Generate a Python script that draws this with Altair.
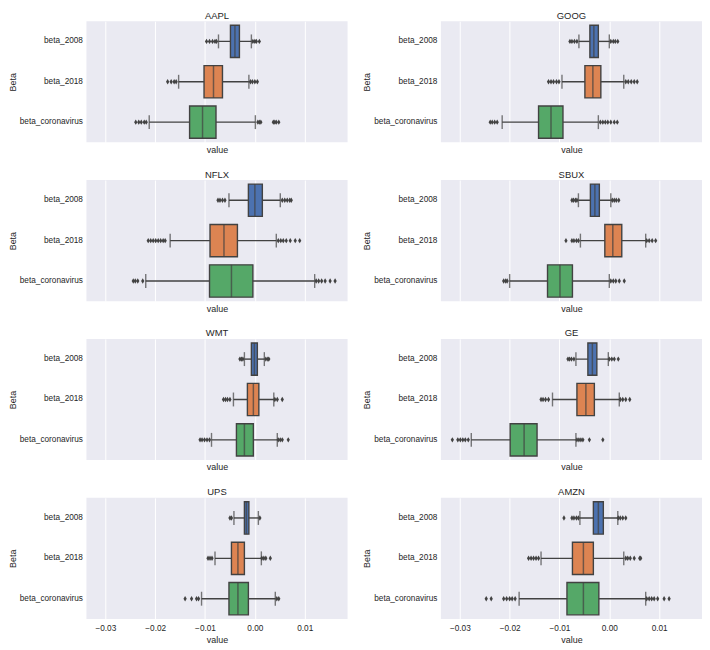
import altair as alt
import pandas as pd

tickers = ["AAPL", "GOOG", "NFLX", "SBUX", "WMT", "GE", "UPS", "AMZN"]
series = ["beta_2008", "beta_2018", "beta_coronavirus"]
colors = ["#4C72B0", "#DD8452", "#55A868"]
tick_values = [-0.03, -0.02, -0.01, 0.0, 0.01]

whisker_low = {
    "AAPL": [-0.0073, -0.0153, -0.0212],
    "GOOG": [-0.0061, -0.0095, -0.0215],
    "NFLX": [-0.0052, -0.0170, -0.0219],
    "SBUX": [-0.0062, -0.0058, -0.0200],
    "WMT": [-0.0021, -0.0043, -0.0087],
    "GE": [-0.0067, -0.0114, -0.0277],
    "UPS": [-0.0042, -0.0080, -0.0107],
    "AMZN": [-0.0059, -0.0137, -0.0181],
}
quartile_1 = {
    "AAPL": [-0.0049, -0.0102, -0.0131],
    "GOOG": [-0.0039, -0.0049, -0.0142],
    "NFLX": [-0.0013, -0.0090, -0.0091],
    "SBUX": [-0.0038, -0.0009, -0.0124],
    "WMT": [-0.0007, -0.0015, -0.0037],
    "GE": [-0.0043, -0.0065, -0.0199],
    "UPS": [-0.0021, -0.0047, -0.0052],
    "AMZN": [-0.0032, -0.0074, -0.0085],
}
medians = {
    "AAPL": [-0.0040, -0.0083, -0.0105],
    "GOOG": [-0.0031, -0.0033, -0.0117],
    "NFLX": [0.0000, -0.0062, -0.0047],
    "SBUX": [-0.0029, 0.0007, -0.0099],
    "WMT": [-0.0001, -0.0003, -0.0021],
    "GE": [-0.0034, -0.0047, -0.0171],
    "UPS": [-0.0017, -0.0034, -0.0034],
    "AMZN": [-0.0022, -0.0052, -0.0052],
}
quartile_3 = {
    "AAPL": [-0.0031, -0.0065, -0.0078],
    "GOOG": [-0.0022, -0.0017, -0.0093],
    "NFLX": [0.0015, -0.0035, -0.0004],
    "SBUX": [-0.0020, 0.0025, -0.0074],
    "WMT": [0.0005, 0.0008, -0.0003],
    "GE": [-0.0025, -0.0030, -0.0145],
    "UPS": [-0.0012, -0.0021, -0.0013],
    "AMZN": [-0.0012, -0.0032, -0.0021],
}
whisker_high = {
    "AAPL": [-0.0007, -0.0012, 0.0001],
    "GOOG": [0.0000, 0.0029, -0.0022],
    "NFLX": [0.0051, 0.0043, 0.0120],
    "SBUX": [0.0003, 0.0073, 0.0000],
    "WMT": [0.0019, 0.0038, 0.0045],
    "GE": [-0.0002, 0.0020, -0.0067],
    "UPS": [0.0007, 0.0013, 0.0041],
    "AMZN": [0.0017, 0.0029, 0.0073],
}
outliers = {
    "AAPL": [
        [-0.0097, -0.0091, -0.0085, -0.0080, -0.0077, -0.0004, 0.0000, 0.0003, 0.0009],
        [-0.0175, -0.0168, -0.0162, -0.0158, -0.0009, -0.0005, 0.0000, 0.0005],
        [-0.0239, -0.0233, -0.0228, -0.0222, -0.0218, 0.0006, 0.0009, 0.0012, 0.0037, 0.0040, 0.0043, 0.0048],
    ],
    "GOOG": [
        [-0.0079, -0.0075, -0.0070, -0.0065, 0.0003, 0.0008, 0.0012, 0.0017],
        [-0.0122, -0.0117, -0.0112, -0.0106, -0.0101, 0.0033, 0.0038, 0.0044, 0.0050, 0.0056],
        [-0.0239, -0.0235, -0.0230, -0.0225, -0.0018, -0.0013, -0.0008, -0.0003, 0.0003, 0.0010, 0.0016],
    ],
    "NFLX": [
        [-0.0074, -0.0070, -0.0065, -0.0060, 0.0055, 0.0060, 0.0065, 0.0070, 0.0073],
        [-0.0214, -0.0209, -0.0204, -0.0199, -0.0194, -0.0189, -0.0184, -0.0180,
         0.0047, 0.0052, 0.0057, 0.0063, 0.0071, 0.0081, 0.0090],
        [-0.0244, -0.0240, -0.0235, -0.0225, 0.0123, 0.0128, 0.0134, 0.0141, 0.0151, 0.0161],
    ],
    "SBUX": [
        [-0.0075, -0.0072, -0.0068, -0.0065, 0.0006, 0.0010, 0.0014, 0.0019],
        [-0.0087, -0.0075, -0.0071, -0.0066, -0.0062, 0.0075, 0.0080, 0.0086, 0.0093],
        [-0.0212, -0.0208, -0.0205, 0.0003, 0.0008, 0.0013, 0.0020, 0.0030],
    ],
    "WMT": [
        [-0.0030, -0.0027, -0.0024, 0.0022, 0.0026, 0.0028],
        [-0.0063, -0.0059, -0.0055, -0.0050, 0.0040, 0.0045, 0.0055],
        [-0.0110, -0.0106, -0.0101, -0.0096, -0.0091, 0.0047, 0.0051, 0.0055, 0.0067],
    ],
    "GE": [
        [-0.0083, -0.0080, -0.0076, -0.0071, 0.0000, 0.0005, 0.0010, 0.0018],
        [-0.0137, -0.0133, -0.0128, -0.0122, 0.0022, 0.0027, 0.0033, 0.0041],
        [-0.0315, -0.0304, -0.0299, -0.0294, -0.0289, -0.0283,
         -0.0065, -0.0061, -0.0057, -0.0053, -0.0040, -0.0013],
    ],
    "UPS": [
        [-0.0050, -0.0047, 0.0010],
        [-0.0094, -0.0090, -0.0086, 0.0014, 0.0018, 0.0022, 0.0031],
        [-0.0140, -0.0127, -0.0117, -0.0113, 0.0044, 0.0048],
    ],
    "AMZN": [
        [-0.0091, -0.0075, -0.0071, -0.0066, -0.0062, 0.0018, 0.0022, 0.0027, 0.0033],
        [-0.0162, -0.0157, -0.0152, -0.0147, -0.0142, 0.0033, 0.0037, 0.0042, 0.0050, 0.0061, 0.0063],
        [-0.0247, -0.0237, -0.0212, -0.0206, -0.0200, -0.0195, -0.0189,
         0.0075, 0.0080, 0.0085, 0.0090, 0.0097, 0.0110, 0.0120],
    ],
}

FONT = "Liberation Sans"
LINE = "#424242"
X_DOMAIN = [-0.0338, 0.0186]
PW, PH = 263, 122
BAND = PH / 3 * 0.8
DIAMOND = "M0,-1L0.6,0L0,1L-0.6,0Z"


def panel(t, bottom):
    box_df = pd.DataFrame({
        "series": series,
        "lo": whisker_low[t],
        "q1": quartile_1[t],
        "med": medians[t],
        "q3": quartile_3[t],
        "hi": whisker_high[t],
    })
    rows = []
    for s, vals in zip(series, outliers[t]):
        for v in vals:
            rows.append({"series": s, "v": v})
    out_df = pd.DataFrame(rows)

    yscale = alt.Scale(domain=series, paddingInner=0.2, paddingOuter=0.1)
    xscale = alt.Scale(domain=X_DOMAIN, nice=False, zero=False)
    y_axis = alt.Axis(title="Beta", grid=False, labelPadding=4, titlePadding=2)
    if bottom:
        x_axis = alt.Axis(values=tick_values, format=".2f", labels=True, grid=True,
                          gridColor="white", gridWidth=1, title="value",
                          labelPadding=5, titlePadding=3)
    else:
        x_axis = alt.Axis(values=tick_values, labels=False, grid=True,
                          gridColor="white", gridWidth=1, title="value",
                          titlePadding=3)

    def X(f):
        return alt.X(f, scale=xscale, axis=x_axis)

    Y = alt.Y("series:N", sort=series, scale=yscale, axis=y_axis)

    base = alt.Chart(box_df)
    whisk = base.mark_rule(color=LINE, strokeWidth=1.4).encode(
        x=X("lo:Q"), x2="hi:Q", y=Y)
    cap_lo = base.mark_tick(color=LINE, size=14, thickness=1.4).encode(
        x=X("lo:Q"), y=Y)
    cap_hi = base.mark_tick(color=LINE, size=14, thickness=1.4).encode(
        x=X("hi:Q"), y=Y)
    box = base.mark_bar(stroke=LINE, strokeWidth=1.4).encode(
        x=X("q1:Q"), x2="q3:Q", y=Y,
        color=alt.Color("series:N", scale=alt.Scale(domain=series, range=colors), legend=None))
    med = base.mark_tick(color=LINE, size=BAND, thickness=1.5).encode(
        x=X("med:Q"), y=Y)
    pts = alt.Chart(out_df).mark_point(shape=DIAMOND, filled=True, color=LINE,
                                       size=30, opacity=1).encode(
        x=X("v:Q"), y=Y)

    return alt.layer(whisk, cap_lo, cap_hi, box, med, pts).properties(
        width=PW, height=PH,
        title=alt.TitleParams(t, fontSize=9.5, fontWeight="normal", color="#262626",
                              font=FONT, offset=1))


grid_rows = []
for r in range(4):
    a, b = tickers[2 * r], tickers[2 * r + 1]
    grid_rows.append(alt.hconcat(panel(a, r == 3), panel(b, r == 3), spacing=15))

chart = alt.vconcat(*grid_rows, spacing=15).properties(
    padding={"left": 0, "top": 0, "right": 0, "bottom": 0}
).configure_view(
    stroke=None, fill="#EAEAF2"
).configure_axis(
    labelFont=FONT, labelFontSize=8.3, labelColor="#262626",
    titleFont=FONT, titleFontSize=9, titleFontWeight="normal", titleColor="#262626",
    domain=False, ticks=False
)

chart.save("out.html", embed_options={"renderer": "svg", "actions": False})
